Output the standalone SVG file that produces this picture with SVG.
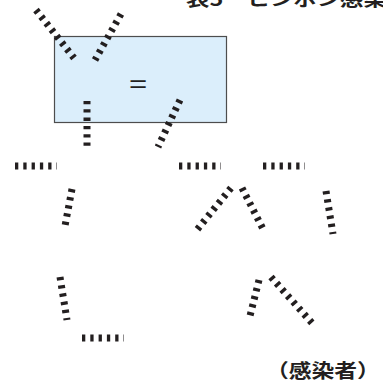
<svg xmlns="http://www.w3.org/2000/svg" width="383" height="382" viewBox="0 0 383 382">
<style>
.d{stroke:#231f20;stroke-width:7;stroke-dasharray:3.3 5;fill:none}
.t{font-family:"Noto Sans CJK JP","Liberation Sans",sans-serif;font-weight:bold;fill:#231f20}
</style>
<rect width="383" height="382" fill="#fff"/>
<g id="title">
<text class="t" font-size="18" transform="translate(186,6) scale(1.3,1)">表5　ヒンボン感染</text>
</g>
<g id="box">
<rect x="54.5" y="36.5" width="172" height="86" fill="#dbeefb" stroke="#4d4d4d" stroke-width="1.2"/>
<text font-size="24" text-anchor="middle" transform="translate(138,92) scale(1.3,1)" style="font-family:'Liberation Sans',sans-serif;fill:#231f20">=</text>
</g>
<g id="connectors">
<line class="d" x1="36" y1="10" x2="74" y2="58"/>
<line class="d" x1="121" y1="14" x2="95" y2="60"/>
<line class="d" x1="87" y1="101" x2="87" y2="147"/>
<line class="d" x1="180" y1="100" x2="158" y2="147"/>
<line class="d" x1="15" y1="166" x2="57" y2="166"/>
<line class="d" x1="179" y1="166" x2="221" y2="166"/>
<line class="d" x1="263" y1="166" x2="305" y2="166"/>
<line class="d" x1="72" y1="189" x2="65" y2="226"/>
<line class="d" x1="231" y1="188" x2="196" y2="231"/>
<line class="d" x1="242" y1="188" x2="263" y2="229"/>
<line class="d" x1="326" y1="191" x2="333" y2="234"/>
<line class="d" x1="60" y1="277" x2="67" y2="320"/>
<line class="d" x1="82" y1="338" x2="124" y2="338"/>
<line class="d" x1="259" y1="280" x2="249" y2="320"/>
<line class="d" x1="271" y1="277" x2="312" y2="323"/>
</g>
<g id="label">
<text class="t" font-size="19" transform="translate(266,378) scale(1.2,1)">（感染者）</text>
</g>
</svg>
